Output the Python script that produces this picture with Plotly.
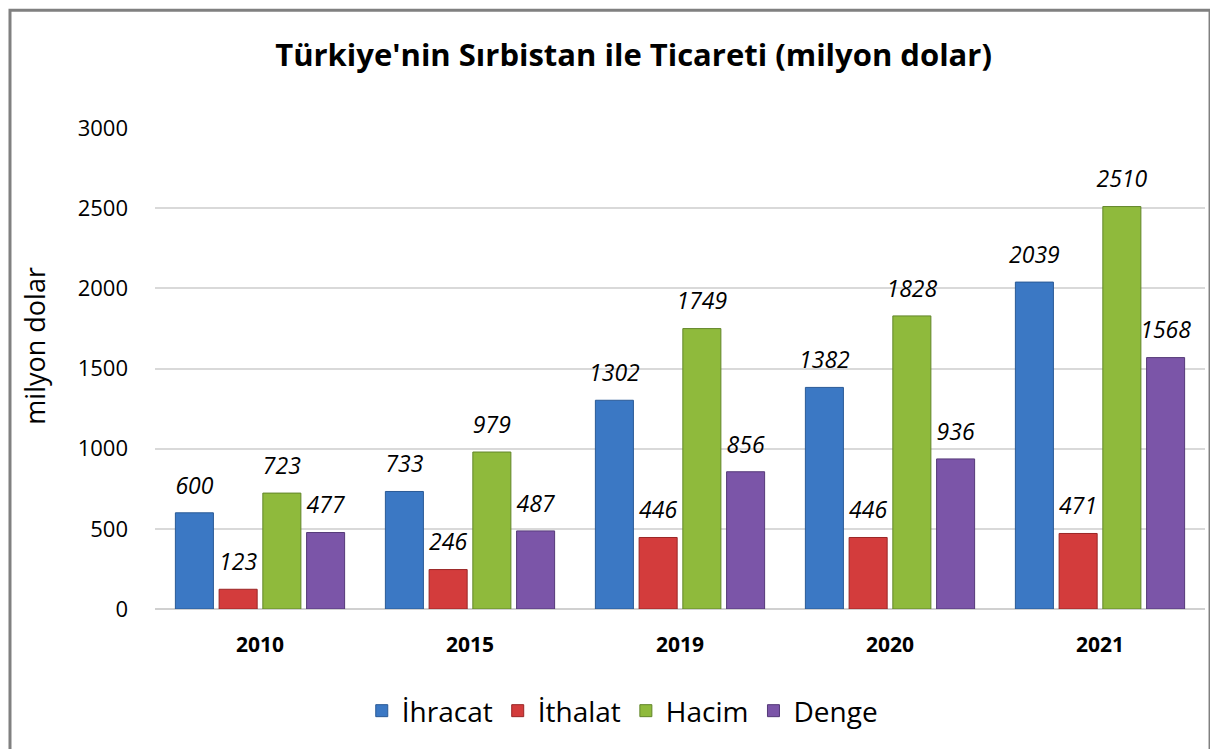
import plotly.graph_objects as go

years = ["2010", "2015", "2019", "2020", "2021"]
ihracat = [600, 733, 1302, 1382, 2039]
ithalat = [123, 246, 446, 446, 471]
hacim = [723, 979, 1749, 1828, 2510]
denge = [477, 487, 856, 936, 1568]

series = [
    ("İhracat", ihracat, "#3b78c4", "#2a5a96"),
    ("İthalat", ithalat, "#d33c3c", "#9a2626"),
    ("Hacim", hacim, "#8fba3c", "#62862a"),
    ("Denge", denge, "#7b55a8", "#553a78"),
]

FONT = "Open Sans"
fig = go.Figure()
for name, vals, col, edge in series:
    fig.add_trace(go.Bar(
        x=years, y=vals, name=name,
        marker=dict(color=col, line=dict(color=edge, width=1)),
    ))
for name, vals, col, edge in series:
    fig.add_trace(go.Scatter(
        x=years, y=vals, mode="markers+text", showlegend=False, hoverinfo="skip",
        marker=dict(size=20, color="rgba(0,0,0,0)"),
        text=[str(v) for v in vals], textposition="top center",
        textfont=dict(family=FONT, size=23, color="black", style="italic"),
        cliponaxis=False,
    ))

fig.update_layout(
    width=1210, height=741,
    margin=dict(l=147, r=13, t=120, b=140),
    paper_bgcolor="white", plot_bgcolor="white",
    barmode="group", bargap=0.167, bargroupgap=0.13,
    scattermode="group", scattergap=0.167,
    font=dict(family=FONT, color="black"),
    title=dict(text="<b>Türkiye'nin Sırbistan ile Ticareti (milyon dolar)</b>",
               x=0.517, xanchor="center", y=0.9366, yanchor="middle",
               font=dict(family=FONT, size=31, color="black")),
    xaxis=dict(tickfont=dict(family=FONT, size=21, color="black", weight="bold"),
               showline=False, ticks="", ticklabelstandoff=21),
    yaxis=dict(range=[0, 3000], dtick=500, gridcolor="#d9d9d9", gridwidth=1.5,
               zeroline=True, zerolinecolor="#d0d0d0", zerolinewidth=2,
               tickfont=dict(family=FONT, size=22, color="black"),
               ticklabelstandoff=26),
    annotations=[dict(text="milyon dolar", xref="paper", yref="paper",
                      x=-0.1145, y=0.547, xanchor="center", yanchor="middle",
                      textangle=-90, showarrow=False,
                      font=dict(family=FONT, size=27, color="black"))],
    legend=dict(orientation="h", x=0.445, xanchor="center", y=-0.16, yanchor="top",
                font=dict(family=FONT, size=28, color="black"),
                itemwidth=30, tracegroupgap=0),
    shapes=[dict(type="rect", xref="paper", yref="paper",
                 x0=-0.1381, x1=1.0048, y0=-0.35, y1=1.245,
                 line=dict(color="#808080", width=3), fillcolor="rgba(0,0,0,0)", layer="below")],
)

fig.write_html("out.html")
